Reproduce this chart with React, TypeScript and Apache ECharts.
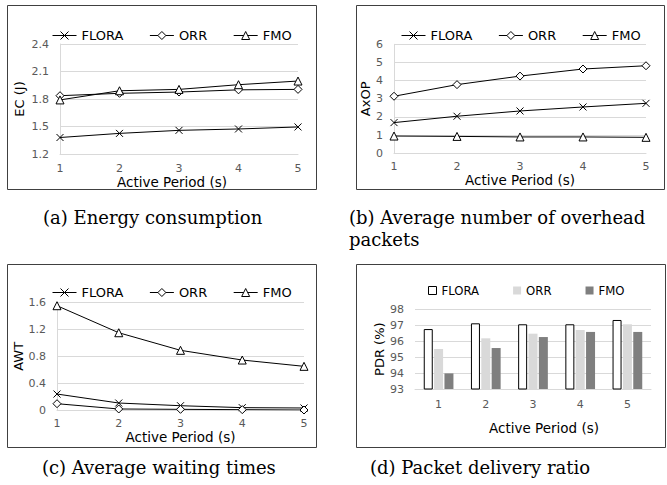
import React, { useEffect, useRef } from 'react';
import * as echarts from 'echarts';

// ---- data ----
const periods = ['1', '2', '3', '4', '5'];
const seriesNames = ['FLORA', 'ORR', 'FMO'];

const ecFlora = [1.38, 1.425, 1.458, 1.473, 1.495];
const ecOrr = [1.836, 1.862, 1.876, 1.9, 1.905];
const ecFmo = [1.79, 1.89, 1.905, 1.956, 1.996];

const axopFlora = [1.69, 2.04, 2.33, 2.55, 2.75];
const axopOrr = [3.14, 3.78, 4.25, 4.64, 4.82];
const axopFmo = [0.95, 0.93, 0.9, 0.9, 0.88];

const awtFlora = [0.238, 0.104, 0.064, 0.035, 0.03];
const awtOrr = [0.094, 0.015, 0.01, 0.005, 0.0];
const awtFmo = [1.555, 1.152, 0.89, 0.745, 0.651];

const pdrFlora = [96.76, 97.12, 97.06, 97.06, 97.33];
const pdrOrr = [95.51, 96.18, 96.47, 96.7, 97.06];
const pdrFmo = [93.98, 95.57, 96.26, 96.58, 96.58];

const captionA = '(a) Energy consumption';
const captionB1 = '(b) Average number of overhead';
const captionB2 = 'packets';
const captionC = '(c) Average waiting times';
const captionD = '(d) Packet delivery ratio';

const xTitle = 'Active Period (s)';

// ---- styles ----
const SANS = 'DejaVu Sans';
const GRID_COLOR = '#d9d9d9';
const LABEL_COLOR = '#595959';
const crossSymbol = 'path://M0,0L10,10M10,0L0,10';
const symbols = [crossSymbol, 'diamond', 'triangle'];
const symbolSizes = [7, 8, 8];

function lineSeries(name: string, idx: number, data: number[], axis: number) {
  return {
    type: 'line',
    name,
    xAxisIndex: axis,
    yAxisIndex: axis,
    data,
    symbol: symbols[idx],
    symbolSize: symbolSizes[idx],
    showSymbol: true,
    lineStyle: { color: '#000', width: 1 },
    itemStyle: { color: '#fff', borderColor: '#000', borderWidth: 1 },
    emphasis: { disabled: true },
  };
}

function xAxisCfg(grid: number, margin: number, nameGap: number, padding: number[], boundaryGap: boolean) {
  return {
    type: 'category',
    gridIndex: grid,
    data: periods,
    boundaryGap,
    axisLine: { show: true, lineStyle: { color: GRID_COLOR, width: 1 } },
    axisTick: { show: false },
    axisLabel: { color: LABEL_COLOR, fontSize: 11, fontFamily: SANS, margin },
    splitLine: { show: false },
    name: xTitle,
    nameLocation: 'middle',
    nameGap,
    nameTextStyle: { color: '#000', fontSize: 13.5, fontFamily: SANS, padding },
  };
}

function yAxisCfg(grid: number, name: string, min: number, max: number, interval: number, nameGap: number, fmt: (v: number) => string, showLine: boolean) {
  return {
    type: 'value',
    gridIndex: grid,
    min,
    max,
    interval,
    axisLine: { show: showLine, lineStyle: { color: GRID_COLOR, width: 1 } },
    axisTick: { show: false },
    axisLabel: { color: LABEL_COLOR, fontSize: 11, fontFamily: SANS, margin: 11, formatter: fmt },
    splitLine: { show: true, lineStyle: { color: GRID_COLOR, width: 1 } },
    name,
    nameLocation: 'middle',
    nameGap,
    nameTextStyle: { color: '#000', fontSize: 13, fontFamily: SANS },
  };
}

function lineLegend(left: number, top: number) {
  return {
    left,
    top,
    orient: 'horizontal',
    itemWidth: 24,
    itemHeight: 10,
    itemGap: 26,
    selectedMode: false,
    data: seriesNames,
    lineStyle: { color: '#000', width: 1 },
    itemStyle: { borderWidth: 1, borderColor: '#000', color: '#fff' },
    textStyle: { color: '#000', fontSize: 13, fontFamily: SANS },
  };
}

function box(x1: number, y1: number, x2: number, y2: number) {
  return {
    type: 'rect',
    shape: { x: x1 + 0.5, y: y1 + 0.5, width: x2 - x1, height: y2 - y1 },
    style: { fill: 'none', stroke: '#404040', lineWidth: 1 },
    silent: true,
  };
}

function caption(text: string, x: number, y: number) {
  return {
    type: 'text',
    x,
    y,
    style: { text, fill: '#000', fontSize: 18, fontFamily: 'DejaVu Serif', verticalAlign: 'middle', align: 'left' },
    silent: true,
  };
}

export default function App() {
  const ref = useRef<HTMLDivElement>(null);

  useEffect(() => {
    if (!ref.current) return;
    const chart = echarts.init(ref.current, undefined, { renderer: 'svg' });
    const option = {
      animation: false,
      backgroundColor: '#fff',
      grid: [
        { left: 60, top: 44, width: 238, height: 110 },
        { left: 394, top: 44.3, width: 252, height: 109 },
        { left: 57, top: 302.7, width: 247, height: 107.3 },
        { left: 415, top: 309.3, width: 236, height: 79.7 },
      ],
      xAxis: [
        xAxisCfg(0, 9, 18, [0, 14, 0, 0], false),
        xAxisCfg(1, 8, 19.5, [0, 0, 0, 0], false),
        xAxisCfg(2, 8, 19, [0, 0, 0, 0], false),
        xAxisCfg(3, 10, 32, [0, 0, 0, 22], true),
      ],
      yAxis: [
        yAxisCfg(0, 'EC (J)', 1.2, 2.4, 0.3, 34.5, (v: number) => v.toFixed(1), true),
        yAxisCfg(1, 'AxOP', 0, 6, 1, 20, (v: number) => String(v), true),
        yAxisCfg(2, 'AWT', 0, 1.6, 0.4, 32.5, (v: number) => (v === 0 ? '0' : v.toFixed(1)), true),
        yAxisCfg(3, 'PDR (%)', 93, 98, 1, 27.5, (v: number) => String(v), false),
      ],
      legend: [
        lineLegend(47, 24),
        lineLegend(396, 24),
        lineLegend(47, 281),
        {
          left: 423,
          top: 279,
          itemWidth: 8,
          itemHeight: 8,
          itemGap: 34,
          selectedMode: false,
          textStyle: { color: '#000', fontSize: 13, fontFamily: '"Liberation Sans Narrow", "DejaVu Sans Condensed", "DejaVu Sans"' },
          data: [
            { name: 'FLORA', icon: 'rect', itemStyle: { color: '#fff', borderColor: '#000', borderWidth: 1 } },
            { name: 'ORR', icon: 'rect', itemStyle: { color: '#d9d9d9', borderColor: '#d9d9d9', borderWidth: 0 } },
            { name: 'FMO', icon: 'rect', itemStyle: { color: '#7f7f7f', borderColor: '#7f7f7f', borderWidth: 0 } },
          ],
        },
      ],
      series: [
        lineSeries('FLORA', 0, ecFlora, 0),
        lineSeries('ORR', 1, ecOrr, 0),
        lineSeries('FMO', 2, ecFmo, 0),
        lineSeries('FLORA', 0, axopFlora, 1),
        lineSeries('ORR', 1, axopOrr, 1),
        lineSeries('FMO', 2, axopFmo, 1),
        lineSeries('FLORA', 0, awtFlora, 2),
        lineSeries('ORR', 1, awtOrr, 2),
        lineSeries('FMO', 2, awtFmo, 2),
        {
          type: 'bar', name: 'FLORA', xAxisIndex: 3, yAxisIndex: 3, data: pdrFlora,
          barWidth: 9, barGap: '15%',
          itemStyle: { color: '#fff', borderColor: '#000', borderWidth: 1 },
          emphasis: { disabled: true },
        },
        {
          type: 'bar', name: 'ORR', xAxisIndex: 3, yAxisIndex: 3, data: pdrOrr,
          barWidth: 9, barGap: '15%',
          itemStyle: { color: '#d9d9d9' },
          emphasis: { disabled: true },
        },
        {
          type: 'bar', name: 'FMO', xAxisIndex: 3, yAxisIndex: 3, data: pdrFmo,
          barWidth: 9, barGap: '15%',
          itemStyle: { color: '#7f7f7f' },
          emphasis: { disabled: true },
        },
      ],
      graphic: [
        box(7, 5, 316, 189),
        box(356, 5, 664, 189),
        box(7, 264, 316, 447),
        box(356, 264, 665, 447),
        caption(captionA, 43, 217),
        caption(captionB1, 349, 217),
        caption(captionB2, 349, 239),
        caption(captionC, 42, 467),
        caption(captionD, 370, 467),
      ],
    };
    chart.setOption(option as any);
    return () => chart.dispose();
  }, []);

  return (
    <div
      ref={ref}
      style={{ position: 'fixed', left: 0, top: 0, width: 667, height: 485, background: '#fff' }}
    />
  );
}
